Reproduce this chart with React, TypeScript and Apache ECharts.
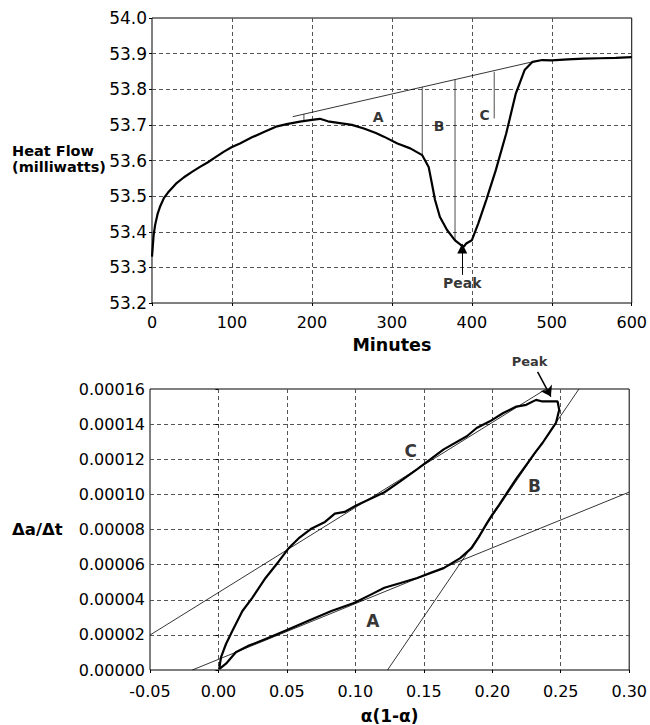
import React, { useEffect, useRef } from "react";
import * as echarts from "echarts";

// ---------- Top panel: heat flow vs minutes ----------
const heatFlow: [number, number][] = [
  [0, 53.33], [2, 53.39], [4, 53.42], [7, 53.45], [10, 53.47], [15, 53.495], [20, 53.51],
  [30, 53.535], [40, 53.553], [50, 53.568], [60, 53.582], [70, 53.595], [80, 53.61],
  [90, 53.625], [100, 53.638], [110, 53.648], [125, 53.665], [140, 53.68], [155, 53.695],
  [170, 53.703], [185, 53.709], [200, 53.714], [210, 53.717], [220, 53.71], [235, 53.705],
  [250, 53.7], [265, 53.69], [280, 53.677], [290, 53.667], [307, 53.648], [323, 53.634],
  [338, 53.615], [346, 53.582], [350, 53.536], [354, 53.489], [360, 53.442], [369, 53.405],
  [379, 53.376], [387, 53.362], [390, 53.358], [393, 53.367], [400, 53.376], [408, 53.423],
  [418, 53.489], [430, 53.573], [443, 53.676], [455, 53.788], [466, 53.854], [476, 53.877],
  [488, 53.882], [500, 53.881], [520, 53.884], [540, 53.886], [560, 53.887], [580, 53.888],
  [600, 53.89],
];
const topBaseline: [number, number][] = [[176, 53.723], [476, 53.877]];
const topDividers: [number, number, number][] = [
  // minute, baseline value, curve value
  [190, 53.73, 53.71],
  [338, 53.806, 53.615],
  [379, 53.827, 53.376],
  [428, 53.849, 53.718],
];
const topLabels: [number, number, string][] = [
  [283, 53.721, "A"],
  [359, 53.696, "B"],
  [416, 53.728, "C"],
  [388, 53.256, "Peak"],
];
const topPeakArrow: [number, number][] = [[388, 53.279], [388, 53.353]];
const topXTicks = { min: 0, max: 600, interval: 100 };
const topYTicks = { min: 53.2, max: 54.0, interval: 0.1 };

// ---------- Bottom panel: da/dt vs a(1-a) ----------
const loopA: [number, number][] = [
  [0.0005, 0.0000005], [0.0055, 0.0000036], [0.0127, 0.0000101], [0.0223, 0.0000139],
  [0.0344, 0.0000176], [0.0488, 0.0000224], [0.0657, 0.000028], [0.0825, 0.0000336],
  [0.0994, 0.0000383], [0.112, 0.0000432], [0.1212, 0.0000468], [0.133, 0.0000495],
  [0.1452, 0.0000524], [0.155, 0.0000553], [0.1645, 0.000058], [0.1766, 0.0000637],
];
const loopB: [number, number][] = [
  [0.185, 0.0000695], [0.19, 0.0000755], [0.196, 0.0000835], [0.2, 0.0000885],
  [0.205, 0.000094], [0.21, 0.0001], [0.2176, 0.000109], [0.225, 0.000117],
  [0.231, 0.0001235], [0.2368, 0.0001294], [0.242, 0.0001355], [0.2465, 0.0001407],
  [0.2489, 0.0001482], [0.2477, 0.0001529],
];
const loopC: [number, number][] = [
  [0.2403, 0.0001529], [0.236, 0.000153], [0.232, 0.0001538], [0.2248, 0.000151],
  [0.2176, 0.00015], [0.208, 0.0001463], [0.1982, 0.0001416], [0.1886, 0.0001378],
  [0.1814, 0.0001331], [0.1645, 0.0001256], [0.1452, 0.0001144], [0.133, 0.0001075],
  [0.1212, 0.0001012], [0.1006, 0.0000937], [0.0922, 0.00009], [0.085, 0.000089],
  [0.0778, 0.0000843], [0.0681, 0.0000806], [0.0585, 0.0000749], [0.0512, 0.0000693],
  [0.044, 0.0000618], [0.0344, 0.0000524], [0.0247, 0.0000411], [0.0175, 0.0000336],
  [0.0102, 0.0000224], [0.0055, 0.0000148], [0.0019, 0.0000073], [0.0005, 0.0000005],
];
const fitC: [number, number][] = [[-0.05, 0.0000199], [0.2393, 0.00016]];
const fitA: [number, number][] = [[-0.0191, 0], [0.3, 0.0001013]];
const fitB: [number, number][] = [[0.1235, 0], [0.2633, 0.00016]];
const bottomLabels: [number, number, string][] = [
  [0.1404, 0.0001247, "C"],
  [0.2308, 0.000105, "B"],
  [0.1127, 0.000028, "A"],
];
const bottomPeakLabel: [number, number, string][] = [[0.2272, 0.0001754, "Peak"]];
const bottomPeakArrow: [number, number][] = [[0.2331, 0.0001697], [0.2428, 0.0001557]];
const botXTicks = { min: -0.05, max: 0.3, interval: 0.05 };
const botYTicks = { min: 0, max: 0.00016, interval: 0.00002 };

const FONT = "DejaVu Sans";

export default function App() {
  const ref = useRef<HTMLDivElement>(null);
  useEffect(() => {
    if (!ref.current) return;
    const chart = echarts.init(ref.current, undefined, { renderer: "svg" });
    const split = {
      show: true,
      showMinLine: false,
      showMaxLine: false,
      lineStyle: { color: "#555", width: 1, type: [4, 3] as number[] },
    };
    const thin = { color: "#000", width: 0.8 };
    const thick = { color: "#000", width: 2.2 };
    const labelSeries = (
      xi: number,
      data: [number, number, string][],
      size: number
    ) => ({
      type: "scatter",
      xAxisIndex: xi,
      yAxisIndex: xi,
      symbolSize: 0,
      clip: false,
      silent: true,
      data: data.map((d) => ({ value: [d[0], d[1]], name: d[2] })),
      label: {
        show: true,
        position: "inside",
        formatter: (p: any) => p.name,
        color: "#000",
        fontFamily: FONT,
        fontWeight: "bold",
        fontSize: size,
      },
    });
    const plain = (xi: number, data: [number, number][], style: any, z = 2) => ({
      type: "line",
      xAxisIndex: xi,
      yAxisIndex: xi,
      data,
      showSymbol: false,
      symbol: "none",
      smooth: false,
      lineStyle: style,
      silent: true,
      z,
    });
    const option: any = {
      animation: false,
      textStyle: { fontFamily: FONT, color: "#000" },
      grid: [
        { left: 152, top: 18, width: 485, height: 285, show: true, borderColor: "#000", borderWidth: 1 },
        { left: 150, top: 389, width: 484, height: 284, show: true, borderColor: "#000", borderWidth: 1 },
      ],
      xAxis: [
        {
          type: "value",
          gridIndex: 0,
          ...topXTicks,
          axisLine: { show: false },
          axisTick: { show: true, length: 3, lineStyle: { color: "#000" } },
          axisLabel: { fontSize: 16, color: "#000", fontFamily: FONT, margin: 11 },
          splitLine: split,
          name: "Minutes",
          nameLocation: "middle",
          nameGap: 33,
          nameTextStyle: { fontSize: 17.5, fontWeight: "bold", color: "#000", fontFamily: FONT },
        },
        {
          type: "value",
          gridIndex: 1,
          ...botXTicks,
          axisLine: { show: false },
          axisTick: { show: true, length: 3, lineStyle: { color: "#000" } },
          axisLabel: {
            fontSize: 16,
            color: "#000",
            fontFamily: FONT,
            margin: 13,
            formatter: (v: number) => v.toFixed(2),
          },
          splitLine: split,
          name: "α(1-α)",
          nameLocation: "middle",
          nameGap: 37,
          nameTextStyle: { fontSize: 17, fontWeight: "bold", color: "#000", fontFamily: FONT },
        },
      ],
      yAxis: [
        {
          type: "value",
          gridIndex: 0,
          ...topYTicks,
          axisLine: { show: false },
          axisTick: { show: true, length: 3, lineStyle: { color: "#000" } },
          axisLabel: {
            fontSize: 17,
            color: "#000",
            fontFamily: FONT,
            margin: 5,
            formatter: (v: number) => v.toFixed(1),
          },
          splitLine: split,
        },
        {
          type: "value",
          gridIndex: 1,
          ...botYTicks,
          axisLine: { show: false },
          axisTick: { show: true, length: 3, lineStyle: { color: "#000" } },
          axisLabel: {
            fontSize: 16,
            color: "#000",
            fontFamily: FONT,
            margin: 5,
            formatter: (v: number) => v.toFixed(5),
          },
          splitLine: split,
        },
      ],
      series: [
        plain(0, topBaseline, thin),
        ...topDividers.map((d) =>
          plain(0, [[d[0], d[1]], [d[0], d[2]]], { color: "#000", width: 0.7 })
        ),
        plain(0, heatFlow, thick, 3),
        {
          type: "lines",
          coordinateSystem: "cartesian2d",
          xAxisIndex: 0,
          yAxisIndex: 0,
          clip: false,
          silent: true,
          symbol: ["none", "triangle"],
          symbolSize: [9, 10],
          lineStyle: { color: "#000", width: 1, opacity: 1 },
          data: [{ coords: topPeakArrow }],
        },
        labelSeries(0, topLabels, 14),
        plain(1, fitC, thin),
        plain(1, fitA, thin),
        plain(1, fitB, thin),
        plain(1, [...loopA, ...loopB, ...loopC], thick, 3),
        {
          type: "lines",
          coordinateSystem: "cartesian2d",
          xAxisIndex: 1,
          yAxisIndex: 1,
          clip: false,
          silent: true,
          symbol: ["none", "arrow"],
          symbolSize: [8, 10],
          lineStyle: { color: "#000", width: 1.5, opacity: 1 },
          data: [{ coords: bottomPeakArrow }],
        },
        labelSeries(1, bottomLabels, 17),
        labelSeries(1, bottomPeakLabel, 13),
      ],
      graphic: [
        {
          type: "text",
          left: 12,
          top: 143,
          style: {
            text: "Heat Flow\n(milliwatts)",
            fontFamily: FONT,
            fontWeight: "bold",
            fontSize: 14.5,
            lineHeight: 16,
            fill: "#000",
          },
        },
        {
          type: "text",
          left: 12,
          top: 521,
          style: {
            text: "Δa/Δt",
            fontFamily: FONT,
            fontWeight: "bold",
            fontSize: 16.5,
            fill: "#000",
          },
        },
      ],
    };
    chart.setOption(option);
    return () => chart.dispose();
  }, []);
  return (
    <div
      ref={ref}
      style={{ position: "absolute", left: 0, top: 0, width: 650, height: 725 }}
    />
  );
}
